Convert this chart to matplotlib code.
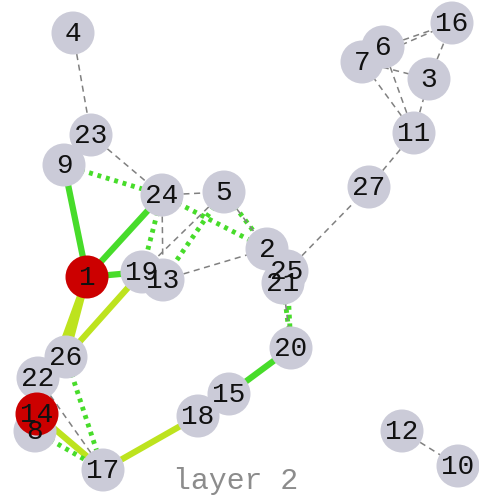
import matplotlib.pyplot as plt
from matplotlib.patches import Circle

# node layout (pixel positions, y down)
node_ids = ['4', '23', '24', '5', '2', '25', '21', '19', '13', '1', '9',
            '27', '11', '7', '6', '3', '16', '20', '15', '18',
            '22', '26', '8', '14', '17', '12', '10']
node_x = [73, 91, 162, 224, 267, 287, 283, 142, 163, 87, 64,
          369, 414, 362, 383, 429, 452, 291, 229, 198,
          38, 66, 35, 37, 103, 402, 458]
node_y = [33, 135, 195, 192, 249, 271, 283, 272, 280, 277, 165,
          187, 133, 62, 47, 79, 23, 348, 394, 416,
          378, 357, 431, 414, 470, 431, 466]
red_nodes = ['1', '14']

# edges by kind
gray_edges = [('4', '23'), ('23', '24'), ('24', '5'), ('24', '13'), ('5', '19'),
              ('13', '2'), ('5', '2'), ('25', '27'), ('27', '11'), ('11', '7'),
              ('11', '6'), ('11', '3'), ('7', '3'), ('6', '16'), ('7', '16'),
              ('3', '16'), ('21', '20'), ('12', '10'), ('22', '17')]
green_solid = [('9', '1'), ('1', '24'), ('1', '19'), ('15', '20')]
yellow_solid = [('1', '26'), ('1', '14'), ('19', '26'), ('14', '17'), ('17', '18')]
green_dotted = [('9', '24'), ('24', '2'), ('24', '19'), ('5', '13'), ('5', '2'),
                ('21', '20'), ('25', '20'), ('26', '17'), ('8', '17')]

GREEN = '#47dc2a'
YELLOW = '#bde31e'
NODE_GRAY = '#cbcbd8'
RED = '#cc0000'

pos = {n: (x, y) for n, x, y in zip(node_ids, node_x, node_y)}

fig = plt.figure(figsize=(4.79, 4.98), dpi=100)
ax = fig.add_axes([0, 0, 1, 1])
ax.set_xlim(0, 479)
ax.set_ylim(498, 0)
ax.axis('off')


def draw_edges(edges, **kw):
    for a, b in edges:
        ax.plot([pos[a][0], pos[b][0]], [pos[a][1], pos[b][1]], zorder=1, **kw)


draw_edges(yellow_solid, color=YELLOW, lw=4.5, solid_capstyle='butt')
draw_edges(green_solid, color=GREEN, lw=4.5, solid_capstyle='butt')
draw_edges(green_dotted, color=GREEN, lw=3.5, linestyle=(0, (0.8, 1.0)))
draw_edges(gray_edges, color='#808080', lw=1.1, linestyle=(0, (4, 3)))

# circles first, then all labels on top
for n in node_ids:
    c = RED if n in red_nodes else NODE_GRAY
    ax.add_patch(Circle(pos[n], 21.5, facecolor=c, edgecolor='none', zorder=2))
for n in node_ids:
    ax.text(pos[n][0], pos[n][1] + 1, n, ha='center', va='center',
            fontsize=20, family='Liberation Mono', color='#111111', zorder=3)

ax.text(236, 481, 'layer 2', ha='center', va='center', fontsize=21.5,
        family='Liberation Mono', color='#8c8c8c', zorder=3)

fig.savefig('out.png', dpi=100)
